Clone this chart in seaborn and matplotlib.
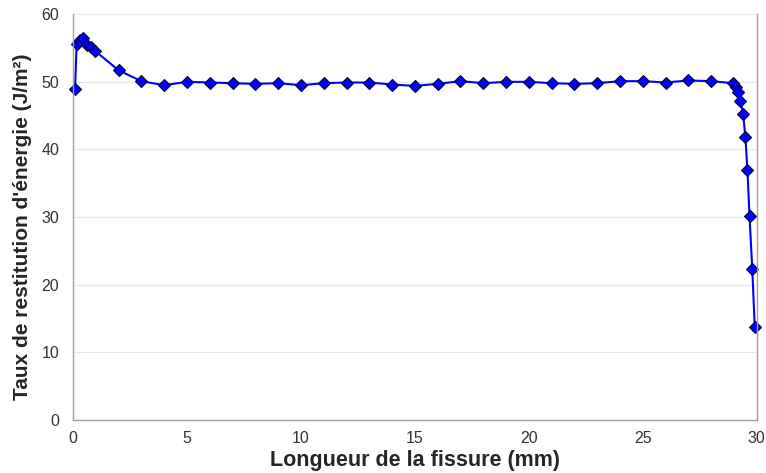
import numpy as np
import pandas as pd
import matplotlib
matplotlib.use('Agg')
import matplotlib.pyplot as plt
import seaborn as sns

# crack length (mm) and energy release rate (J/m2)
longueur = [0.09, 0.16, 0.30, 0.42, 0.60, 0.78, 0.96, 2, 3, 4, 5, 6, 7, 8, 9, 10,
            11, 12, 13, 14, 15, 16, 17, 18, 19, 20, 21, 22, 23, 24, 25, 26, 27, 28,
            28.96, 29.08, 29.18, 29.28, 29.40, 29.50, 29.59, 29.68, 29.80, 29.91]
taux = [49.0, 55.6, 56.2, 56.5, 55.4, 55.2, 54.6, 51.7, 50.1, 49.5, 50.0, 49.9, 49.8,
        49.7, 49.8, 49.5, 49.8, 49.9, 49.9, 49.6, 49.4, 49.7, 50.1, 49.8, 50.0, 50.0,
        49.8, 49.7, 49.8, 50.1, 50.1, 49.9, 50.2, 50.1,
        49.8, 49.3, 48.5, 47.2, 45.2, 41.8, 36.9, 30.1, 22.4, 13.7]

df = pd.DataFrame({'longueur': longueur, 'taux': taux})

sns.set_style('white')
plt.rcParams['font.family'] = ['Liberation Sans', 'DejaVu Sans']

fig = plt.figure(figsize=(7.66, 4.73), dpi=100)
ax = fig.add_axes([0.0953, 0.112, 0.8927, 0.858])

sns.lineplot(data=df, x='longueur', y='taux', ax=ax, color='#0000ff', linewidth=1.5,
             marker='D', markersize=6.5, markerfacecolor='#0000ff',
             markeredgecolor='#000040', markeredgewidth=0.8, sort=False, clip_on=False)

ax.set_xlim(0, 30)
ax.set_ylim(0, 60)
ax.set_xticks(range(0, 31, 5))
ax.set_yticks(range(0, 61, 10))
ax.yaxis.grid(True, color='#e8e8e8', linewidth=0.8)
ax.set_axisbelow(True)
for s in ['left', 'bottom', 'right']:
    ax.spines[s].set_color('#a0a0a0')
    ax.spines[s].set_linewidth(1.0)
ax.spines['top'].set_visible(False)
ax.tick_params(axis='both', which='both', direction='out', length=4, width=0.8,
               color='#a0a0a0', labelsize=11.5, colors='#333333')
ax.tick_params(axis='x', pad=4)
ax.tick_params(axis='y', pad=6)

ax.set_xlabel('Longueur de la fissure (mm)', fontweight='bold', fontsize=15.5, labelpad=3)
ax.set_ylabel("Taux de restitution d'énergie (J/m²)", fontweight='bold', fontsize=15)
ax.yaxis.set_label_coords(-0.060, 0.477)

fig.savefig('out.png', dpi=100)
